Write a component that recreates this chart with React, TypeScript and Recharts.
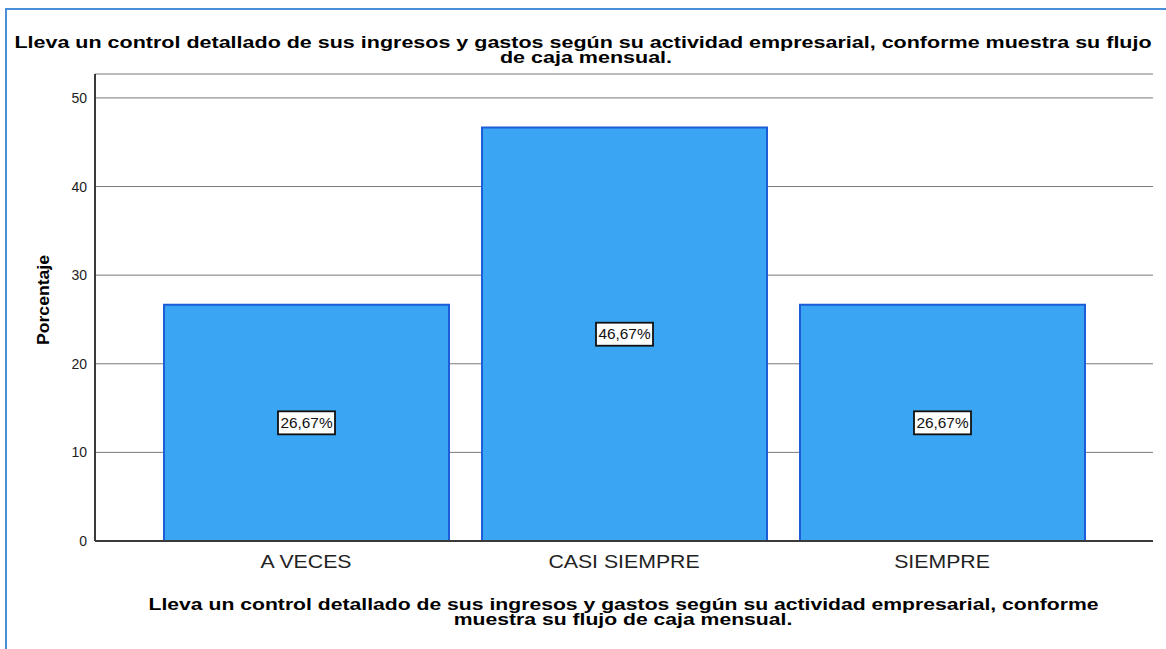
import React from 'react';
import { BarChart, Bar, XAxis, YAxis, CartesianGrid, LabelList } from 'recharts';

const categories = ['A VECES', 'CASI SIEMPRE', 'SIEMPRE'];
const percentages = [26.67, 46.67, 26.67];
const yTicks = [0, 10, 20, 30, 40, 50];

const titleLines = [
  'Lleva un control detallado de sus ingresos y gastos según su actividad empresarial, conforme muestra su flujo',
  'de caja mensual.',
];
const xTitleLines = [
  'Lleva un control detallado de sus ingresos y gastos según su actividad empresarial, conforme',
  'muestra su flujo de caja mensual.',
];
const yTitle = 'Porcentaje';

const data = categories.map((name, i) => ({ name, value: percentages[i] }));

const FONT = '"Liberation Sans", Arial, sans-serif';

function ValueBox(props: any) {
  const { x, y, width, height, value } = props;
  const cx = x + width / 2;
  const cy = y + height / 2;
  const text = `${Number(value).toFixed(2).replace('.', ',')}%`;
  return (
    <g>
      <rect x={cx - 28.5} y={cy - 11.5} width={57} height={23} fill="#fff" stroke="#111" strokeWidth={1.8} />
      <text
        transform={`translate(${cx},${cy + 5}) scale(1.1,1)`}
        textAnchor="middle"
        fontSize={14}
        fontFamily={FONT}
        fill="#111"
      >
        {text}
      </text>
    </g>
  );
}

function CategoryTick(props: any) {
  const { x, y, payload } = props;
  return (
    <text
      transform={`translate(${x},${y + 27}) scale(1.12,1)`}
      textAnchor="middle"
      fontSize={19}
      fontFamily={FONT}
      fill="#222"
    >
      {payload.value}
    </text>
  );
}

export default function App() {
  return (
    <div style={{ position: 'absolute', left: 0, top: 0, width: 1166, height: 649, background: '#fff' }}>
      <div
        style={{
          position: 'absolute',
          left: 5,
          top: 8,
          width: 1170,
          height: 660,
          borderLeft: '2px solid #4a90d9',
          borderTop: '2px solid #4a90d9',
        }}
      />
      <div style={{ position: 'absolute', left: 0, top: 0 }}>
        <BarChart width={1166} height={649} data={data} margin={{ top: 74, right: 13, left: 0, bottom: 0 }}>
          <CartesianGrid vertical={false} stroke="#7a7a7a" strokeWidth={1} />
          <XAxis
            dataKey="name"
            height={108}
            padding={{ left: 52, right: 52 }}
            axisLine={{ stroke: '#3a3a3a', strokeWidth: 2 }}
            tickLine={false}
            tickSize={0}
            tickMargin={0}
            tick={<CategoryTick />}
          />
          <YAxis
            width={95}
            domain={[0, 52.7]}
            ticks={yTicks}
            axisLine={{ stroke: '#3a3a3a', strokeWidth: 2 }}
            tickLine={false}
            tickSize={0}
            tickMargin={8}
            tick={{ fontSize: 14, fill: '#222', fontFamily: FONT }}
          />
          <Bar dataKey="value" fill="#3aa5f2" stroke="#1d5ed8" strokeWidth={2} barSize={285} isAnimationActive={false}>
            <LabelList dataKey="value" content={<ValueBox />} />
          </Bar>
        </BarChart>
      </div>
      <svg
        width={1166}
        height={649}
        style={{ position: 'absolute', left: 0, top: 0, pointerEvents: 'none' }}
        fontFamily={FONT}
      >
        <text transform="translate(583,47.5) scale(1.265,1)" textAnchor="middle" fontSize={17} fontWeight="bold" fill="#000">
          {titleLines[0]}
        </text>
        <text transform="translate(586,63) scale(1.265,1)" textAnchor="middle" fontSize={17} fontWeight="bold" fill="#000">
          {titleLines[1]}
        </text>
        <text transform="translate(43,300) rotate(-90) scale(1.1,1)" textAnchor="middle" dy={6} fontSize={16} fontWeight="bold" fill="#000">
          {yTitle}
        </text>
        <text transform="translate(623.5,609.5) scale(1.245,1)" textAnchor="middle" fontSize={17} fontWeight="bold" fill="#000">
          {xTitleLines[0]}
        </text>
        <text transform="translate(623,625) scale(1.245,1)" textAnchor="middle" fontSize={17} fontWeight="bold" fill="#000">
          {xTitleLines[1]}
        </text>
      </svg>
    </div>
  );
}
